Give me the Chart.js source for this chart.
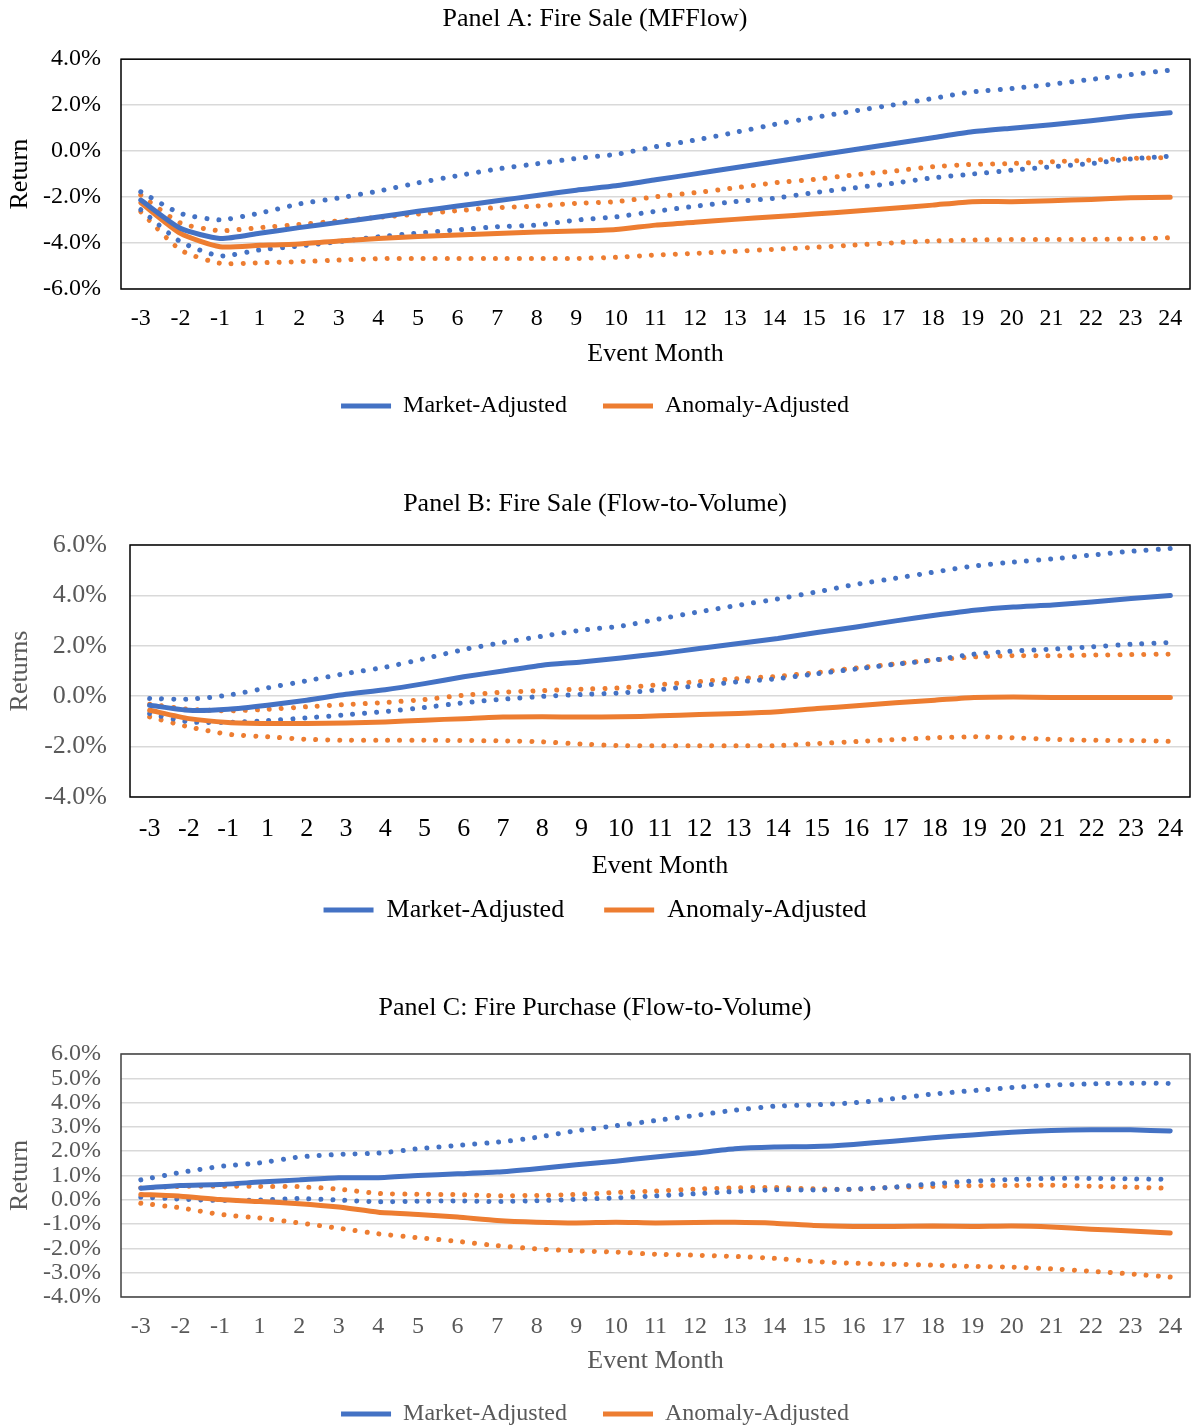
<!DOCTYPE html>
<html>
<head>
<meta charset="utf-8">
<title>Fire sale / fire purchase event returns</title>
<script src="https://cdn.jsdelivr.net/npm/chart.js@4.4.1/dist/chart.umd.min.js"></script>
<style>
  html, body { margin: 0; padding: 0; background: #fff; overflow: hidden; }
  .panel { position: absolute; left: 0; width: 1192px; }
  #panelA { top: 0; height: 440px; }
  #panelB { top: 470px; height: 480px; }
  #panelC { top: 975px; height: 462px; }
</style>
</head>
<body>
<div class="panel" id="panelA"><canvas id="chartA"></canvas></div>
<div class="panel" id="panelB"><canvas id="chartB"></canvas></div>
<div class="panel" id="panelC"><canvas id="chartC"></canvas></div>
<script>
// Event months (no month 0)
const months = ['-3', '-2', '-1', '1', '2', '3', '4', '5', '6', '7', '8', '9', '10', '11',
  '12', '13', '14', '15', '16', '17', '18', '19', '20', '21', '22', '23', '24'];

// Panel A: Fire Sale (MFFlow), values in %
const mktA = [-2.13, -3.36, -3.8, -3.57, -3.33, -3.1, -2.87, -2.62, -2.39, -2.16, -1.93, -1.7, -1.51, -1.25,
  -0.99, -0.72, -0.46, -0.2, 0.06, 0.32, 0.58, 0.84, 1.0, 1.15, 1.32, 1.52, 1.67];
const mktAHi = [-1.77, -2.71, -2.99, -2.7, -2.3, -2.04, -1.74, -1.38, -1.07, -0.78, -0.55, -0.32, -0.14, 0.19,
  0.48, 0.81, 1.16, 1.46, 1.74, 2.01, 2.29, 2.58, 2.72, 2.91, 3.12, 3.33, 3.52];
const mktALo = [-2.55, -3.94, -4.56, -4.3, -4.13, -3.94, -3.73, -3.57, -3.43, -3.29, -3.22, -3.0, -2.86, -2.62,
  -2.4, -2.2, -2.05, -1.81, -1.6, -1.4, -1.16, -1.0, -0.83, -0.68, -0.54, -0.34, -0.22];
const anoA = [-2.25, -3.58, -4.16, -4.1, -4.04, -3.91, -3.8, -3.72, -3.65, -3.58, -3.52, -3.48, -3.41, -3.22,
  -3.1, -2.97, -2.86, -2.74, -2.62, -2.49, -2.35, -2.2, -2.2, -2.16, -2.1, -2.03, -2.01];
const anoAHi = [-1.91, -3.13, -3.46, -3.33, -3.19, -3.04, -2.88, -2.74, -2.59, -2.46, -2.39, -2.27, -2.2, -1.99,
  -1.81, -1.6, -1.38, -1.23, -1.04, -0.87, -0.68, -0.58, -0.54, -0.46, -0.39, -0.32, -0.28];
const anoALo = [-2.64, -4.3, -4.88, -4.86, -4.81, -4.74, -4.68, -4.67, -4.67, -4.67, -4.67, -4.67, -4.62, -4.52,
  -4.45, -4.36, -4.27, -4.19, -4.09, -3.99, -3.91, -3.87, -3.85, -3.85, -3.84, -3.82, -3.77];
const yTicksA = [-6, -4, -2, 0, 2, 4];

// Panel B: Fire Sale (Flow-to-Volume)
const mktB = [-0.36, -0.56, -0.52, -0.36, -0.16, 0.08, 0.26, 0.5, 0.77, 1.0, 1.23, 1.36, 1.52, 1.69,
  1.89, 2.09, 2.29, 2.53, 2.75, 2.99, 3.21, 3.41, 3.54, 3.62, 3.74, 3.88, 4.0];
const mktBHi = [-0.09, -0.12, 0.04, 0.33, 0.61, 0.9, 1.15, 1.49, 1.85, 2.13, 2.38, 2.62, 2.78, 3.07,
  3.35, 3.61, 3.86, 4.14, 4.44, 4.68, 4.93, 5.17, 5.32, 5.45, 5.6, 5.75, 5.86];
const mktBLo = [-0.69, -1.02, -1.04, -0.97, -0.86, -0.74, -0.61, -0.45, -0.26, -0.12, -0.01, 0.07, 0.13, 0.26,
  0.42, 0.57, 0.7, 0.89, 1.08, 1.27, 1.44, 1.67, 1.79, 1.87, 1.96, 2.06, 2.13];
const anoB = [-0.56, -0.89, -1.04, -1.08, -1.08, -1.06, -1.02, -0.95, -0.89, -0.83, -0.82, -0.83, -0.82, -0.78,
  -0.73, -0.69, -0.62, -0.49, -0.38, -0.26, -0.16, -0.05, -0.03, -0.05, -0.05, -0.05, -0.05];
const anoBHi = [-0.32, -0.52, -0.58, -0.52, -0.42, -0.33, -0.25, -0.13, 0.04, 0.16, 0.22, 0.28, 0.33, 0.46,
  0.58, 0.7, 0.79, 0.94, 1.12, 1.28, 1.44, 1.56, 1.61, 1.6, 1.63, 1.65, 1.67];
const anoBLo = [-0.82, -1.22, -1.51, -1.61, -1.71, -1.75, -1.75, -1.75, -1.76, -1.77, -1.81, -1.9, -1.96, -1.97,
  -1.97, -1.97, -1.96, -1.88, -1.8, -1.72, -1.65, -1.61, -1.65, -1.71, -1.75, -1.76, -1.79];
const yTicksB = [-4, -2, 0, 2, 4, 6];

// Panel C: Fire Purchase (Flow-to-Volume)
const mktC = [0.48, 0.59, 0.63, 0.73, 0.82, 0.91, 0.91, 1.0, 1.07, 1.14, 1.28, 1.44, 1.59, 1.76,
  1.92, 2.1, 2.17, 2.19, 2.28, 2.41, 2.55, 2.67, 2.78, 2.85, 2.88, 2.88, 2.83];
const mktCHi = [0.82, 1.12, 1.37, 1.52, 1.76, 1.87, 1.92, 2.1, 2.24, 2.37, 2.57, 2.84, 3.05, 3.26,
  3.47, 3.69, 3.85, 3.91, 3.99, 4.16, 4.35, 4.49, 4.62, 4.72, 4.77, 4.8, 4.79];
const mktCLo = [0.11, 0.03, -0.03, -0.01, 0.05, -0.01, -0.08, -0.06, -0.05, -0.07, -0.04, 0.02, 0.08, 0.16,
  0.25, 0.34, 0.41, 0.4, 0.44, 0.52, 0.66, 0.77, 0.84, 0.88, 0.88, 0.86, 0.84];
const anoC = [0.22, 0.15, 0.01, -0.07, -0.16, -0.3, -0.51, -0.6, -0.71, -0.85, -0.92, -0.95, -0.92, -0.95,
  -0.93, -0.92, -0.96, -1.06, -1.1, -1.1, -1.08, -1.1, -1.08, -1.12, -1.21, -1.28, -1.37];
const anoCHi = [0.49, 0.55, 0.56, 0.55, 0.54, 0.44, 0.26, 0.23, 0.21, 0.17, 0.18, 0.22, 0.3, 0.36,
  0.44, 0.49, 0.51, 0.45, 0.43, 0.51, 0.55, 0.58, 0.59, 0.6, 0.56, 0.52, 0.47];
const anoCLo = [-0.14, -0.33, -0.6, -0.75, -0.95, -1.17, -1.4, -1.56, -1.71, -1.89, -2.02, -2.1, -2.15, -2.24,
  -2.28, -2.33, -2.41, -2.54, -2.61, -2.65, -2.69, -2.74, -2.77, -2.84, -2.94, -3.05, -3.18];
const yTicksC = [-4, -3, -2, -1, 0, 1, 2, 3, 4, 5, 6];

const BLUE = '#4472C4';
const ORANGE = '#ED7D31';
const GRAY = '#595959';

Chart.defaults.font.family = "'Liberation Serif', 'Times New Roman', serif";
Chart.defaults.animation = false;

// box around the plot area
const frameBox = {
  id: 'frameBox',
  afterDatasetsDraw(chart, args, opts) {
    const { left, top, width, height } = chart.chartArea;
    const ctx = chart.ctx;
    ctx.save();
    ctx.strokeStyle = opts.color || '#000';
    ctx.lineWidth = 1.5;
    ctx.strokeRect(left, top, width, height);
    ctx.restore();
  }
};

function solidLine(label, data, color) {
  return {
    label, data,
    borderColor: color, backgroundColor: color,
    borderWidth: 5, borderCapStyle: 'round', borderJoinStyle: 'round',
    pointRadius: 0, tension: 0.2, fill: false
  };
}

// round dots, about 12px apart
function dottedLine(label, data, color) {
  return {
    label, data,
    borderColor: color, backgroundColor: color,
    borderWidth: 5, borderDash: [0.01, 12], borderCapStyle: 'round',
    pointRadius: 0, tension: 0.2, fill: false
  };
}

function makePanel(canvasId, series, yTicks, p) {
  return new Chart(document.getElementById(canvasId), {
    type: 'line',
    data: {
      labels: months,
      datasets: [
        solidLine('Market-Adjusted', series[0], BLUE),
        solidLine('Anomaly-Adjusted', series[1], ORANGE),
        dottedLine('Market-Adjusted upper', series[2], BLUE),
        dottedLine('Market-Adjusted lower', series[3], BLUE),
        dottedLine('Anomaly-Adjusted upper', series[4], ORANGE),
        dottedLine('Anomaly-Adjusted lower', series[5], ORANGE)
      ]
    },
    options: {
      responsive: true,
      maintainAspectRatio: false,
      layout: { padding: p.layoutPad },
      plugins: {
        title: {
          display: true,
          text: p.title,
          color: '#000',
          font: { size: 26, weight: 'normal' },
          padding: p.titlePad
        },
        legend: {
          position: 'bottom',
          labels: {
            usePointStyle: true,
            pointStyle: 'line',
            pointStyleWidth: 50,
            color: p.legendColor,
            font: { size: p.legendSize },
            padding: p.legendPad,
            filter: (item) => item.datasetIndex < 2
          }
        },
        tooltip: { enabled: false },
        frameBox: { color: p.frame }
      },
      scales: {
        x: {
          type: 'category',
          offset: true,
          grid: { display: false },
          border: { display: false },
          ticks: {
            color: p.xTickColor,
            font: { size: p.xTickSize },
            padding: p.xTickPad,
            autoSkip: false,
            maxRotation: 0
          },
          title: {
            display: true,
            text: 'Event Month',
            color: p.xTitleColor,
            font: { size: 26 },
            padding: { top: 0, bottom: p.xTitlePad }
          },
          afterFit: (scale) => { scale.height = p.xHeight; }
        },
        y: {
          min: yTicks[0],
          max: yTicks[yTicks.length - 1],
          grid: { color: '#D9D9D9', lineWidth: 1.5, drawTicks: false },
          border: { display: false },
          afterBuildTicks: (axis) => { axis.ticks = yTicks.map(v => ({ value: v })); },
          ticks: {
            color: p.yTickColor,
            font: { size: p.yTickSize },
            padding: p.yTickPad,
            autoSkip: false,
            callback: (v) => Number(v).toFixed(1) + '%'
          },
          title: {
            display: true,
            text: p.yTitle,
            color: p.yTitleColor,
            font: { size: 26 },
            padding: { top: 4.4, bottom: 0 }
          },
          afterFit: (scale) => { scale.width = p.yWidth; }
        }
      }
    },
    plugins: [frameBox]
  });
}

makePanel('chartA', [mktA, anoA, mktAHi, mktALo, anoAHi, anoALo], yTicksA, {
  title: 'Panel A: Fire Sale (MFFlow)',
  titlePad: { top: 4, bottom: 24 },
  layoutPad: { top: 0, right: 2, bottom: 12, left: 0 },
  yWidth: 121, yTickPad: 20, yTickSize: 24, yTickColor: '#000',
  yTitle: 'Return', yTitleColor: '#000',
  xHeight: 69, xTickPad: 7.6, xTickSize: 24, xTickColor: '#000',
  xTitleColor: '#000', xTitlePad: -11.4,
  legendSize: 24, legendPad: 36, legendColor: '#000',
  frame: '#000'
});

makePanel('chartB', [mktB, anoB, mktBHi, mktBLo, anoBHi, anoBLo], yTicksB, {
  title: 'Panel B: Fire Sale (Flow-to-Volume)',
  titlePad: { top: 18.4, bottom: 25.4 },
  layoutPad: { top: 0, right: 2, bottom: 17, left: 0 },
  yWidth: 130, yTickPad: 23, yTickSize: 26, yTickColor: GRAY,
  yTitle: 'Returns', yTitleColor: GRAY,
  xHeight: 60, xTickPad: 8.4, xTickSize: 26, xTickColor: '#000',
  xTitleColor: '#000', xTitlePad: -24.6,
  legendSize: 26, legendPad: 40, legendColor: '#000',
  frame: '#000'
});

makePanel('chartC', [mktC, anoC, mktCHi, mktCLo, anoCHi, anoCLo], yTicksC, {
  title: 'Panel C: Fire Purchase (Flow-to-Volume)',
  titlePad: { top: 17.4, bottom: 30.4 },
  layoutPad: { top: 0, right: 2, bottom: 1, left: 0 },
  yWidth: 121, yTickPad: 20, yTickSize: 24, yTickColor: GRAY,
  yTitle: 'Return', yTitleColor: GRAY,
  xHeight: 69, xTickPad: 7.6, xTickSize: 24, xTickColor: GRAY,
  xTitleColor: GRAY, xTitlePad: -10.6,
  legendSize: 24, legendPad: 36, legendColor: GRAY,
  frame: '#404040'
});
</script>
</body>
</html>
